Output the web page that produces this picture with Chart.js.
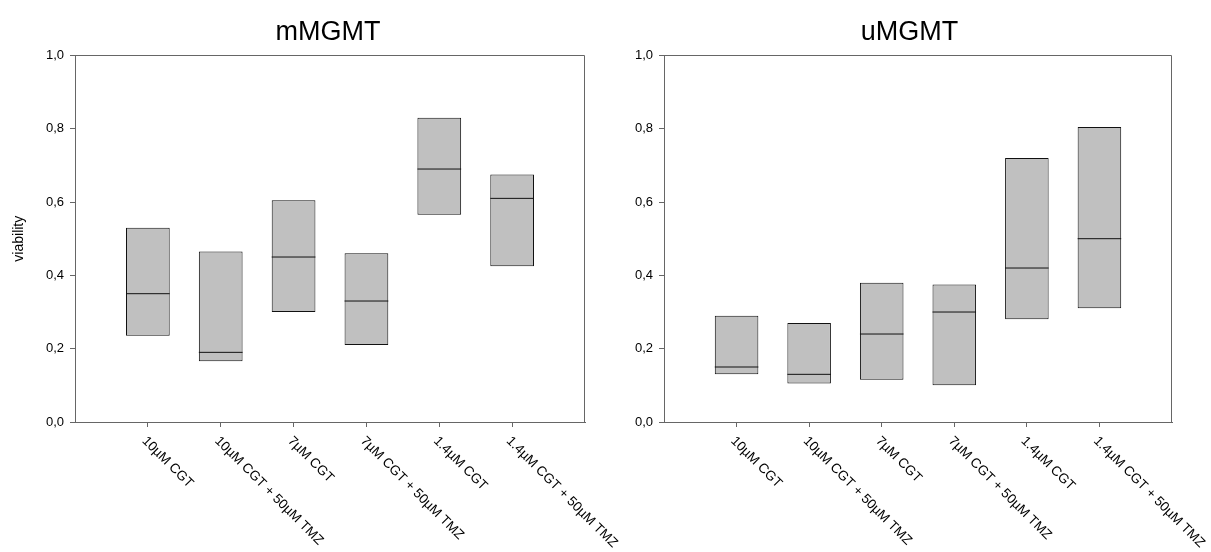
<!DOCTYPE html>
<html>
<head>
<meta charset="utf-8">
<script src="https://cdn.jsdelivr.net/npm/chart.js@4.4.1/dist/chart.umd.min.js"></script>
<style>
  body { margin: 0; background: #fff; }
  #wrap { position: relative; width: 1211px; height: 552px; overflow: hidden; }
  canvas { position: absolute; top: 0; }
</style>
</head>
<body>
<div id="wrap">
  <canvas id="cm" width="656" height="552" style="left:0px"></canvas>
  <canvas id="cu" width="603" height="552" style="left:608px"></canvas>
</div>
<script>
// categories along x, same for both panels
var categories = ['10µM CGT', '10µM CGT + 50µM TMZ', '7µM CGT', '7µM CGT + 50µM TMZ', '1.4µM CGT', '1.4µM CGT + 50µM TMZ'];
var yTicks = [0, 0.2, 0.4, 0.6, 0.8, 1.0];

// mMGMT boxes
var mLow    = [0.235, 0.166, 0.30, 0.21, 0.565, 0.425];
var mHigh   = [0.53, 0.465, 0.605, 0.46, 0.83, 0.675];
var mMedian = [0.35, 0.19, 0.45, 0.33, 0.69, 0.61];

// uMGMT boxes
var uLow    = [0.13, 0.105, 0.115, 0.10, 0.28, 0.31];
var uHigh   = [0.29, 0.27, 0.38, 0.375, 0.72, 0.805];
var uMedian = [0.15, 0.13, 0.24, 0.30, 0.42, 0.50];

var FONT = '"Liberation Sans", Arial, Helvetica, sans-serif';
Chart.defaults.font.family = FONT;
Chart.defaults.color = '#000';

// empty slot at each end, so the boxes sit at 1..6 on a 0..7 axis
var labels = [''].concat(categories, ['']);
function pad(arr) { return [null].concat(arr, [null]); }

// box frame: top and right lines (axes draw left and bottom)
var framePlugin = {
  id: 'frame',
  afterDraw: function(chart) {
    var a = chart.chartArea, ctx = chart.ctx;
    ctx.save();
    ctx.strokeStyle = '#666';
    ctx.lineWidth = 1;
    ctx.beginPath();
    ctx.moveTo(a.left, Math.round(a.top) + 0.5);
    ctx.lineTo(Math.round(a.right) - 0.5, Math.round(a.top) + 0.5);
    ctx.lineTo(Math.round(a.right) - 0.5, a.bottom);
    ctx.stroke();
    ctx.restore();
  }
};

// chart.js only rotates the other way, so draw the slanted labels here
var xLabelPlugin = {
  id: 'xlabels',
  afterDraw: function(chart) {
    var sc = chart.scales.x, ctx = chart.ctx;
    ctx.save();
    ctx.font = '13.5px ' + FONT;
    ctx.fillStyle = '#000';
    ctx.textAlign = 'left';
    ctx.textBaseline = 'top';
    for (var i = 0; i < sc.ticks.length; i++) {
      var txt = chart.data.labels[i];
      if (!txt) continue;
      ctx.save();
      ctx.translate(sc.getPixelForTick(i) + 1, sc.top + 12);
      ctx.rotate(Math.PI / 4);
      ctx.fillText(txt, 0, 0);
      ctx.restore();
    }
    ctx.restore();
  }
};

function makeChart(id, title, low, high, median, showYTitle, yWidth, rightSpace) {
  var boxes = low.map(function(v, i) { return [v, high[i]]; });
  return new Chart(document.getElementById(id), {
    type: 'bar',
    data: {
      labels: labels,
      datasets: [{
        type: 'bar',
        data: pad(boxes),
        backgroundColor: '#c0c0c0',
        borderColor: '#111',
        borderWidth: 1,
        borderSkipped: false,
        barPercentage: 1,
        categoryPercentage: 0.6,
        order: 2
      }, {
        type: 'line',
        data: pad(median),
        showLine: false,
        pointStyle: 'line',
        pointRadius: function(ctx) { return ctx.chart.scales.x.width / 7 * 0.3; },
        pointHoverRadius: 0,
        pointBorderColor: '#111',
        pointBorderWidth: 1,
        order: 1
      }]
    },
    options: {
      responsive: false,
      animation: false,
      devicePixelRatio: 1,
      layout: { padding: 0 },
      plugins: {
        legend: { display: false },
        tooltip: { enabled: false },
        title: {
          display: true,
          text: title,
          color: '#000',
          font: { size: 27, weight: 'normal', family: FONT },
          padding: { top: 16, bottom: 7 }
        }
      },
      scales: {
        x: {
          type: 'category',
          offset: false,
          grid: {
            display: true,
            offset: false,
            drawOnChartArea: false,
            tickLength: 5,
            color: function(ctx) { return labels[ctx.index] ? '#666' : 'rgba(0,0,0,0)'; }
          },
          border: { color: '#666' },
          ticks: { display: false },
          afterFit: function(s) { s.height = 130; }
        },
        y: {
          min: 0,
          max: 1,
          afterBuildTicks: function(s) { s.ticks = yTicks.map(function(v) { return { value: v }; }); },
          ticks: {
            color: '#000',
            font: { size: 13 },
            padding: 6,
            callback: function(v) { return Number(v).toFixed(1).replace('.', ','); }
          },
          grid: { drawOnChartArea: false, tickLength: 5, color: '#666' },
          border: { color: '#666' },
          title: {
            display: showYTitle,
            text: 'viability',
            color: '#000',
            font: { size: 14 },
            padding: { top: 11 }
          },
          afterFit: function(s) { s.width = yWidth; }
        },
        // empty space on the right so the title centres on the whole canvas
        spacer: {
          type: 'linear',
          position: 'right',
          display: true,
          ticks: { display: false },
          grid: { display: false },
          border: { display: false },
          afterFit: function(s) { s.width = rightSpace; }
        }
      }
    },
    plugins: [framePlugin, xLabelPlugin]
  });
}

makeChart('cm', 'mMGMT', mLow, mHigh, mMedian, true, 75, 71);
makeChart('cu', 'uMGMT', uLow, uHigh, uMedian, false, 56, 39);
</script>
</body>
</html>
